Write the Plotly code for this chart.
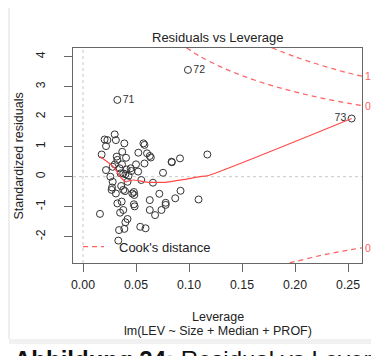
import plotly.graph_objects as go

# ---------------- data ----------------
leverage = [0.016, 0.0176, 0.0204, 0.0217, 0.023, 0.0217, 0.0258, 0.028, 0.0274, 0.027,
            0.0299, 0.031, 0.0318, 0.0324, 0.030, 0.028, 0.031, 0.0324, 0.034, 0.035,
            0.0365, 0.038, 0.036, 0.0346, 0.0355, 0.037, 0.039, 0.0406, 0.040, 0.038,
            0.0368, 0.041, 0.043, 0.042, 0.0396, 0.038, 0.040, 0.042, 0.039, 0.0333,
            0.045, 0.0465, 0.048, 0.0456, 0.0484, 0.048, 0.0487, 0.050, 0.052, 0.0522,
            0.054, 0.055, 0.057, 0.058, 0.058, 0.059, 0.0604, 0.063, 0.063, 0.063,
            0.064, 0.066, 0.068, 0.072, 0.074, 0.0755, 0.078, 0.078, 0.0836, 0.0838,
            0.087, 0.0915, 0.092, 0.109, 0.1173, 0.0324, 0.099, 0.2534]
std_resid = [-1.24, 0.74, 1.24, 1.02, 1.22, 0.22, 0.0, -0.17, -0.36, -0.44,
             1.41, 1.22, 0.67, 0.56, 0.41, 0.33, -0.56, -0.89, -1.78, -1.2,
             -0.83, -0.44, -0.31, 0.28, 0.11, 0.83, 1.11, 0.63, 0.08, 0.11,
             0.41, 0.24, 0.03, -0.17, -0.48, -1.11, -1.52, -1.41, -1.74, -2.13,
             0.28, -0.56, -0.51, 0.19, -0.61, -0.92, -0.99, 0.41, 0.17, 0.8,
             -1.67, -0.11, 1.11, 1.06, 0.44, -1.72, 0.78, -0.78, -1.11, 0.69,
             0.64, -0.2, -1.28, -0.57, -1.11, 0.13, -0.94, -0.87, 0.5, 0.48,
             -0.72, 0.61, -0.47, -0.76, 0.74, 2.56, 3.56, 1.94]
labelled_lev = [0.0324, 0.099, 0.2534]
labelled_res = [2.56, 3.56, 1.94]
labelled_ids = ["71", "72", "73"]

smooth_lev = [0.016, 0.0286, 0.0365, 0.0406, 0.0443, 0.0475, 0.054, 0.060, 0.069,
              0.079, 0.088, 0.098, 0.110, 0.1173, 0.2534]
smooth_res = [0.67, 0.33, -0.06, -0.17, -0.13, -0.11, -0.14, -0.18, -0.19,
              -0.18, -0.13, -0.08, 0.0, 0.03, 1.94]

# Cook's distance contours
cook05_lev = [0.0976, 0.11, 0.13, 0.15, 0.175, 0.20, 0.225, 0.25, 0.2632]
cook05_res = [4.30, 4.02, 3.66, 3.37, 3.07, 2.83, 2.62, 2.45, 2.37]
cook1_lev = [0.178, 0.20, 0.225, 0.25, 0.2632]
cook1_res = [4.30, 4.00, 3.71, 3.46, 3.35]
cook05n_lev = [0.195, 0.20, 0.225, 0.25, 0.2632]
cook05n_res = [-2.87, -2.83, -2.62, -2.45, -2.37]
cook_labels = ["1", "0.5", "0.5"]
cook_label_y = [3.35, 2.37, -2.37]

x_ticks = [0.0, 0.05, 0.10, 0.15, 0.20, 0.25]
x_tick_labels = ["0.00", "0.05", "0.10", "0.15", "0.20", "0.25"]
y_ticks = [-2, -1, 0, 1, 2, 3, 4]
y_tick_labels = ["-2", "-1", "0", "1", "2", "3", "4"]

# ---------------- layout geometry ----------------
W, H = 371, 356
L, R, T, B = 73, 362, 48, 263


def px_x(p):
    return (p - L) / (R - L)


def px_y(p):
    return (B - p) / (B - T)


FONT = "Liberation Sans, Arial, Helvetica, sans-serif"
RED = "#ff4a4a"
CRED = "#ff6060"
TXT = "#222222"

fig = go.Figure()

# Cook's distance contours
for xs, ys in [(cook05_lev, cook05_res), (cook1_lev, cook1_res), (cook05n_lev, cook05n_res)]:
    fig.add_trace(go.Scatter(x=xs, y=ys, mode="lines", line=dict(color=CRED, width=1.2, dash="5px,4px", shape="spline"),
                             hoverinfo="skip", showlegend=False))

# points
fig.add_trace(go.Scatter(x=leverage, y=std_resid, mode="markers",
                         marker=dict(symbol="circle-open", size=7, color="#333333", line=dict(width=1)),
                         showlegend=False, cliponaxis=False))

# smoother
fig.add_trace(go.Scatter(x=smooth_lev, y=smooth_res, mode="lines",
                         line=dict(color=RED, width=1.2, shape="spline", smoothing=0.6),
                         showlegend=False, hoverinfo="skip"))

# point labels (invisible marker keeps the text clear of the circle)
fig.add_trace(go.Scatter(x=labelled_lev, y=labelled_res, mode="markers+text", text=labelled_ids,
                         marker=dict(size=7, opacity=0),
                         textposition=["middle right", "middle right", "middle left"],
                         textfont=dict(family=FONT, size=10.5, color="#333333"),
                         showlegend=False, cliponaxis=False, hoverinfo="skip"))

axis_common = dict(showline=True, linecolor="#666666", linewidth=1, mirror=True,
                   ticks="outside", ticklen=8, tickcolor="#666666", tickwidth=1,
                   showgrid=False, zeroline=False,
                   tickfont=dict(family=FONT, size=12.3, color=TXT))

fig.update_xaxes(range=[-0.00943, 0.2632], tickvals=x_ticks, ticktext=x_tick_labels,
                 ticklabelstandoff=2, **axis_common)
fig.update_yaxes(range=[-2.877, 4.29], tickvals=y_ticks, ticktext=y_tick_labels,
                 tickangle=-90, ticklabelstandoff=14, **axis_common)

shapes = [
    # reference dotted lines at 0
    dict(type="line", xref="x", yref="paper", x0=0, x1=0, y0=0, y1=1,
         line=dict(color="#c8c8c8", width=1, dash="dot"), layer="below"),
    dict(type="line", xref="paper", yref="y", x0=0, x1=1, y0=0, y1=0,
         line=dict(color="#c8c8c8", width=1, dash="dot"), layer="below"),
    # legend dashed line
    dict(type="line", xref="paper", yref="paper", x0=px_x(83), x1=px_x(104), y0=px_y(246.7), y1=px_y(246.7),
         line=dict(color=CRED, width=1.2, dash="5px,4px")),
    # page frame
    dict(type="line", xref="paper", yref="paper", x0=px_x(9), x1=px_x(9), y0=px_y(8), y1=px_y(339),
         line=dict(color="#dddddd", width=1)),
    dict(type="rect", xref="paper", yref="paper", x0=px_x(9), x1=px_x(372), y0=px_y(339), y1=px_y(344),
         line=dict(width=0), fillcolor="#f1f1f1"),
]

annotations = [
    dict(text="Residuals vs Leverage", xref="paper", yref="paper", x=0.5, y=px_y(37.7),
         xanchor="center", yanchor="middle", showarrow=False, font=dict(family=FONT, size=13, color=TXT)),
    dict(text="Leverage", xref="paper", yref="paper", x=0.5, y=px_y(316.5),
         xanchor="center", yanchor="middle", showarrow=False, font=dict(family=FONT, size=12.5, color=TXT)),
    dict(text="lm(LEV ~ Size + Median + PROF)", xref="paper", yref="paper", x=0.5, y=px_y(331),
         xanchor="center", yanchor="middle", showarrow=False, font=dict(family=FONT, size=12.5, color=TXT)),
    dict(text="Standardized residuals", xref="paper", yref="paper", x=px_x(18.5), y=px_y(156),
         xanchor="center", yanchor="middle", textangle=-90, showarrow=False,
         font=dict(family=FONT, size=12.5, color=TXT)),
    dict(text="Cook's distance", xref="paper", yref="paper", x=px_x(116.5), y=px_y(247),
         xanchor="left", yanchor="middle", showarrow=False, font=dict(family=FONT, size=13, color=TXT)),
    dict(text="<b>Abbildung 24:</b> Residual vs Leverage", xref="paper", yref="paper", x=px_x(12), y=px_y(343.5),
         xanchor="left", yanchor="top", showarrow=False, font=dict(family=FONT, size=24, color="#111111")),
]
for lab, yv in zip(cook_labels, cook_label_y):
    annotations.append(dict(text=lab, xref="paper", yref="y", x=1, y=yv, xanchor="left", yanchor="middle",
                            xshift=1, showarrow=False, font=dict(family=FONT, size=10.5, color=CRED)))

fig.update_layout(width=W, height=H, margin=dict(l=L, r=W - R, t=T, b=H - B, pad=0),
                  paper_bgcolor="white", plot_bgcolor="white",
                  shapes=shapes, annotations=annotations, showlegend=False)

fig.write_html("out.html", config={"displayModeBar": False},
               post_script="document.body.style.margin='0';document.body.style.overflow='hidden';")
